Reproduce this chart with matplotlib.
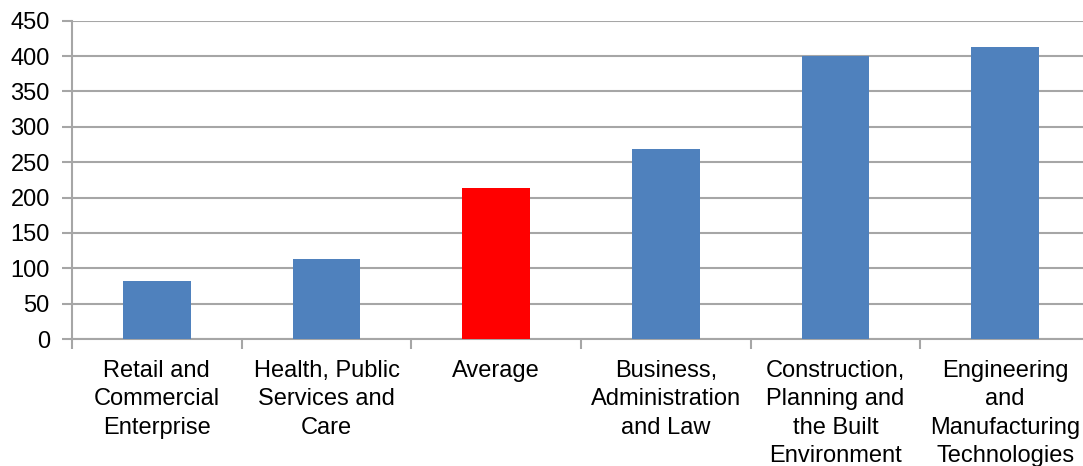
import matplotlib
matplotlib.use("Agg")
import matplotlib.pyplot as plt
import numpy as np

categories = ["Retail and\nCommercial\nEnterprise", "Health, Public\nServices and\nCare", "Average",
              "Business,\nAdministration\nand Law", "Construction,\nPlanning and\nthe Built\nEnvironment",
              "Engineering\nand\nManufacturing\nTechnologies"]
values = [82, 113, 213, 268, 400, 413]
colors = ["#4F81BD", "#4F81BD", "#FF0000", "#4F81BD", "#4F81BD", "#4F81BD"]
yticks = [0, 50, 100, 150, 200, 250, 300, 350, 400, 450]

plt.rcParams['font.family'] = ['Liberation Sans', 'DejaVu Sans']
fig = plt.figure(figsize=(10.83, 4.66), dpi=100)
ax = fig.add_axes([0.0665, 0.2725, 0.940, 0.683])
x = np.arange(len(categories))
ax.bar(x, values, width=0.4, color=colors, zorder=3)
ax.set_xlim(-0.5, len(categories) - 0.5)
ax.set_ylim(0, 450)
ax.set_yticks(yticks)
ax.set_yticklabels([str(v) for v in yticks], fontsize=17)
ax.yaxis.grid(True, color="#A6A6A6", linewidth=1.5, zorder=0)
ax.set_axisbelow(True)
ax.set_xticks(np.arange(len(categories) + 1) - 0.5)
ax.set_xticklabels([])
ax.set_xticks(x, minor=True)
ax.set_xticklabels(categories, minor=True, fontsize=17, linespacing=1.38, va="top")
ax.tick_params(axis="x", which="minor", length=0, pad=15)
ax.tick_params(axis="x", which="major", length=7, color="#A6A6A6", width=1.5, direction="out")
ax.tick_params(axis="y", length=7, color="#A6A6A6", width=1.5, direction="out", pad=9)
for s in ["top", "right"]:
    ax.spines[s].set_visible(False)
for s in ["left", "bottom"]:
    ax.spines[s].set_color("#A6A6A6")
    ax.spines[s].set_linewidth(1.5)
fig.savefig("out.png", dpi=100)
